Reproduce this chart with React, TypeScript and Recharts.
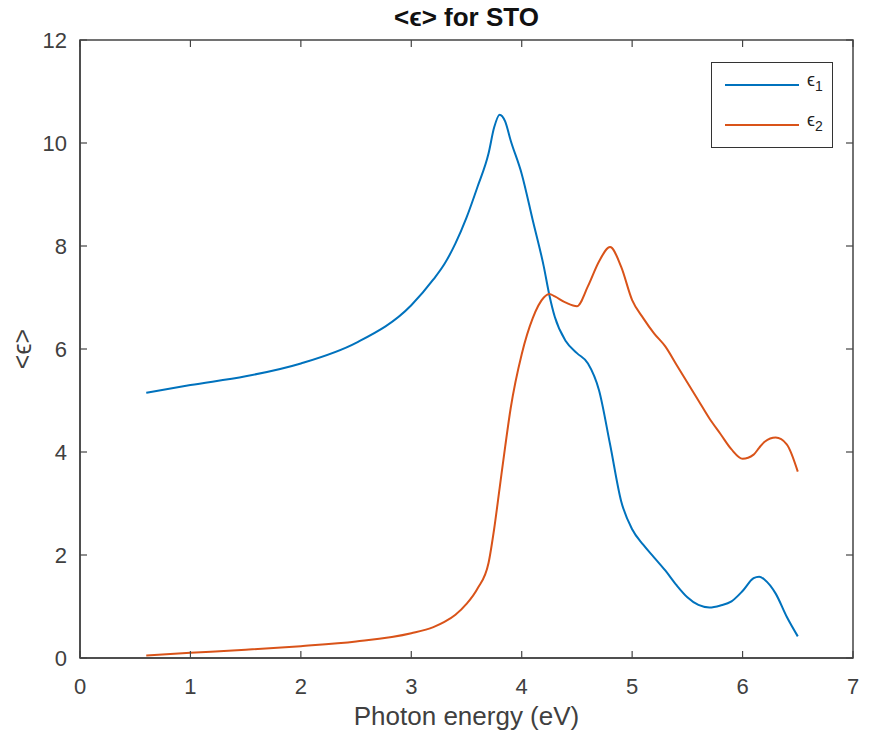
import React from "react";
import { LineChart, Line, XAxis, YAxis, Label, ReferenceArea } from "recharts";

// photon energy (eV)
const energy = [
  0.6, 1.0, 1.5, 2.0, 2.5, 3.0, 3.2, 3.3, 3.4, 3.5, 3.6, 3.7, 3.75, 3.8, 3.85,
  3.9, 4.0, 4.1, 4.2, 4.25, 4.3, 4.4, 4.5, 4.6, 4.7, 4.8, 4.9, 5.0, 5.1, 5.2,
  5.3, 5.4, 5.5, 5.6, 5.7, 5.8, 5.9, 6.0, 6.1, 6.15, 6.2, 6.3, 6.4, 6.5,
];

const eps1 = [
  5.15, 5.3, 5.47, 5.72, 6.12, 6.85, 7.35, 7.65, 8.05, 8.55, 9.15, 9.8, 10.3,
  10.55, 10.42, 10.05, 9.4, 8.5, 7.6, 7.05, 6.62, 6.15, 5.92, 5.72, 5.2, 4.15,
  3.05, 2.5, 2.2, 1.95, 1.7, 1.42, 1.18, 1.03, 0.98, 1.02, 1.1, 1.3, 1.55, 1.58,
  1.52, 1.25, 0.8, 0.42,
];

const eps2 = [
  0.05, 0.1, 0.16, 0.23, 0.32, 0.48, 0.6, 0.7, 0.84, 1.05, 1.35, 1.85, 2.5,
  3.3, 4.1, 4.85, 5.9, 6.6, 7.0, 7.07, 7.02, 6.9, 6.83, 7.22, 7.7, 7.98, 7.6,
  6.95, 6.6, 6.3, 6.05, 5.7, 5.35, 5.0, 4.65, 4.35, 4.05, 3.87, 3.95, 4.08, 4.2,
  4.28, 4.15, 3.62,
];

const xTicks = [0, 1, 2, 3, 4, 5, 6, 7];
const yTicks = [0, 2, 4, 6, 8, 10, 12];

const data = energy.map((x, i) => ({ x, e1: eps1[i], e2: eps2[i] }));

const BLUE = "#0072BD";
const ORANGE = "#D95319";
const AXIS = "#444444";
const TEXT = "#404040";
const FONT = "'Liberation Sans', Arial, sans-serif";

// the wrapper cancels the body margin, so svg coords = page coords
// (only 8..861 x 8..732 ends up in the picture)
const W = 869;
const H = 740;
const PLOT_TOP = 40;
const PLOT_LEFT = 80;
const PLOT_RIGHT = 853;
const TICK = 7;

function XTick(props: any) {
  const { x, y, payload } = props;
  return (
    <g>
      <line x1={x} y1={y} x2={x} y2={y - TICK} stroke={AXIS} strokeWidth={1.2} />
      <line x1={x} y1={PLOT_TOP} x2={x} y2={PLOT_TOP + TICK} stroke={AXIS} strokeWidth={1.2} />
      <text x={x} y={y + 36} textAnchor="middle" fill={TEXT} fontSize={22} fontFamily={FONT}>
        {payload.value}
      </text>
    </g>
  );
}

function YTick(props: any) {
  const { y, payload } = props;
  return (
    <g>
      <line x1={PLOT_LEFT} y1={y} x2={PLOT_LEFT + TICK} y2={y} stroke={AXIS} strokeWidth={1.2} />
      <line x1={PLOT_RIGHT} y1={y} x2={PLOT_RIGHT - TICK} y2={y} stroke={AXIS} strokeWidth={1.2} />
      <text
        x={PLOT_LEFT - 13}
        y={y}
        textAnchor="end"
        dominantBaseline="central"
        fill={TEXT}
        fontSize={22}
        fontFamily={FONT}
      >
        {payload.value}
      </text>
    </g>
  );
}

function YLabel(props: any) {
  const vb = props.viewBox || {};
  const cy = vb.y + vb.height / 2;
  return (
    <text
      x={22}
      y={cy}
      transform={`rotate(-90, 22, ${cy})`}
      textAnchor="middle"
      dominantBaseline="central"
      fill={TEXT}
      fontSize={25}
      fontFamily={FONT}
    >
      {"<ϵ>"}
    </text>
  );
}

function EpsLegend() {
  const rows = [
    { color: BLUE, sub: "1" },
    { color: ORANGE, sub: "2" },
  ];
  return (
    <div
      style={{
        position: "absolute",
        left: 711,
        top: 62,
        width: 122,
        height: 86,
        boxSizing: "border-box",
        border: "1.5px solid #333",
        background: "#fff",
        fontFamily: FONT,
      }}
    >
      {rows.map((r, i) => (
        <div
          key={r.sub}
          style={{ position: "absolute", left: 13, top: 22 + i * 40 - 11, height: 22 }}
        >
          <svg width={76} height={22} style={{ position: "absolute", left: 0, top: 0 }}>
            <line x1={0} y1={11} x2={74} y2={11} stroke={r.color} strokeWidth={2} />
          </svg>
          <span
            style={{
              position: "absolute",
              left: 82,
              top: -4,
              fontSize: 18,
              color: "#222",
              whiteSpace: "nowrap",
            }}
          >
            ϵ<sub style={{ fontSize: 14 }}>{r.sub}</sub>
          </span>
        </div>
      ))}
    </div>
  );
}

export default function App() {
  return (
    <div
      style={{
        position: "relative",
        margin: -8,
        width: W,
        height: H,
        overflow: "hidden",
        background: "#fff",
        fontFamily: FONT,
      }}
    >
      <div
        style={{
          position: "absolute",
          left: PLOT_LEFT,
          width: PLOT_RIGHT - PLOT_LEFT,
          top: 2,
          textAlign: "center",
          fontSize: 26,
          fontWeight: "bold",
          color: "#111",
          lineHeight: "30px",
        }}
      >
        {"<ϵ> for STO"}
      </div>
      <LineChart
        width={W}
        height={H}
        data={data}
        margin={{ top: PLOT_TOP, right: W - PLOT_RIGHT, left: 0, bottom: 10 }}
      >
        <XAxis
          dataKey="x"
          type="number"
          domain={[0, 7]}
          ticks={xTicks}
          allowDataOverflow
          height={72}
          tickSize={0}
          tickMargin={0}
          tickLine={false}
          stroke={AXIS}
          strokeWidth={1.5}
          tick={<XTick />}
        >
          <Label
            value="Photon energy (eV)"
            position="insideBottom"
            offset={5}
            fill={TEXT}
            fontSize={26}
            fontFamily={FONT}
          />
        </XAxis>
        <YAxis
          type="number"
          domain={[0, 12]}
          ticks={yTicks}
          width={PLOT_LEFT}
          tickSize={0}
          tickMargin={0}
          tickLine={false}
          stroke={AXIS}
          strokeWidth={1.5}
          tick={<YTick />}
        >
          <Label content={<YLabel />} />
        </YAxis>
        <ReferenceArea
          x1={0}
          x2={7}
          y1={0}
          y2={12}
          fill="none"
          fillOpacity={0}
          stroke={AXIS}
          strokeWidth={1.5}
          ifOverflow="visible"
        />
        <Line
          dataKey="e1"
          type="monotone"
          stroke={BLUE}
          strokeWidth={2}
          dot={false}
          isAnimationActive={false}
        />
        <Line
          dataKey="e2"
          type="monotone"
          stroke={ORANGE}
          strokeWidth={2}
          dot={false}
          isAnimationActive={false}
        />
      </LineChart>
      <EpsLegend />
    </div>
  );
}
